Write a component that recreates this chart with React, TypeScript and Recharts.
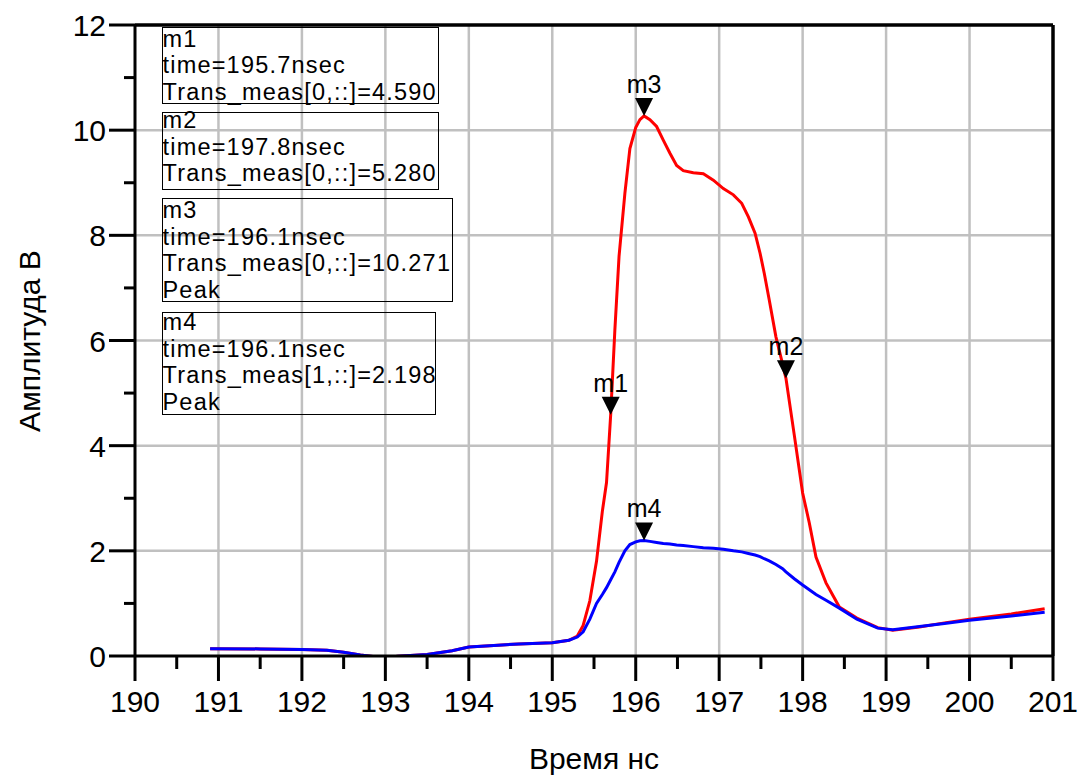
import React from 'react';
import { LineChart, Line, XAxis, YAxis, ReferenceLine, ReferenceDot } from 'recharts';

// time axis, ns
const timeNs = [
  190.9, 191.5, 192.0, 192.3, 192.5, 192.7, 192.85, 193.0, 193.15, 193.5, 193.8, 194.0, 194.3, 194.6,
  195.0, 195.2, 195.3, 195.37, 195.45, 195.53, 195.6, 195.65, 195.7, 195.75, 195.8, 195.87, 195.93,
  196.0, 196.05, 196.1, 196.17, 196.25, 196.33, 196.41, 196.49, 196.57, 196.69, 196.81, 196.93,
  197.05, 197.17, 197.27, 197.35, 197.43, 197.49, 197.54, 197.6, 197.68, 197.76, 197.8, 197.9,
  198.0, 198.08, 198.16, 198.28, 198.44, 198.65, 198.9, 199.08, 199.4, 199.7, 200.0, 200.5, 200.9,
];

// Trans_meas[0,::] (red)
const trans0 = [
  0.14, 0.135, 0.125, 0.11, 0.07, 0.02, -0.01, -0.03, -0.005, 0.03, 0.1, 0.17, 0.2, 0.23,
  0.25, 0.3, 0.38, 0.58, 1.05, 1.8, 2.75, 3.3, 4.59, 6.2, 7.6, 8.8, 9.65,
  10.05, 10.2, 10.271, 10.2, 10.07, 9.81, 9.56, 9.33, 9.23, 9.19, 9.17, 9.05,
  8.89, 8.77, 8.61, 8.35, 8.04, 7.66, 7.28, 6.77, 6.07, 5.55, 5.28, 4.2,
  3.1, 2.53, 1.88, 1.39, 0.93, 0.72, 0.54, 0.49, 0.55, 0.63, 0.7, 0.8, 0.9,
];

// Trans_meas[1,::] (blue)
const trans1 = [
  0.14, 0.135, 0.125, 0.11, 0.07, 0.02, -0.01, -0.03, -0.005, 0.03, 0.1, 0.17, 0.2, 0.23,
  0.25, 0.3, 0.36, 0.46, 0.7, 1.0, 1.17, 1.3, 1.45, 1.6, 1.78, 2.0, 2.12,
  2.17, 2.19, 2.198, 2.18, 2.16, 2.14, 2.13, 2.11, 2.1, 2.08, 2.06, 2.05,
  2.03, 2.0, 1.98, 1.95, 1.92, 1.89, 1.85, 1.81, 1.74, 1.66, 1.6, 1.47,
  1.35, 1.26, 1.17, 1.06, 0.91, 0.7, 0.53, 0.5, 0.56, 0.62, 0.68, 0.76, 0.83,
];

const xMajor = [190, 191, 192, 193, 194, 195, 196, 197, 198, 199, 200, 201];
const yTicks = [0, 1, 2, 3, 4, 5, 6, 7, 8, 9, 10, 11, 12];
const xGrid = [191, 192, 193, 194, 195, 196, 197, 198, 199, 200];
const yGrid = [2, 4, 6, 8, 10];

const markers = [
  { name: 'm1', time: 195.7, value: 4.59, series: 0, peak: false },
  { name: 'm2', time: 197.8, value: 5.28, series: 0, peak: false },
  { name: 'm3', time: 196.1, value: 10.271, series: 0, peak: true },
  { name: 'm4', time: 196.1, value: 2.198, series: 1, peak: true },
];

// readout box placement (page px)
const boxes = [
  { left: 162, top: 27, width: 277, height: 77, textTop: 25.5 },
  { left: 162, top: 112, width: 277, height: 78, textTop: 107 },
  { left: 162, top: 198, width: 291, height: 104, textTop: 197 },
  { left: 162, top: 312, width: 274, height: 103, textTop: 309 },
];

const FONT = '"Liberation Sans", Arial, sans-serif';

const data = timeNs.map((t, i) => ({ t, v0: trans0[i], v1: trans1[i] }));
const xTicks = [...xMajor, ...xMajor.slice(1).map((v) => v - 0.5)].sort((a, b) => a - b);

const XTick = (props: any) => {
  const { x, y, payload } = props;
  const major = Number.isInteger(payload.value);
  return (
    <g>
      <line x1={x} x2={x} y1={y} y2={y + (major ? 25 : 13)} stroke="#000" strokeWidth={3} />
      {major && (
        <text x={x} y={y + 56} textAnchor="middle" fontSize={30} fontFamily={FONT} fill="#000">
          {payload.value}
        </text>
      )}
    </g>
  );
};

const YTick = (props: any) => {
  const { x, y, payload } = props;
  const major = payload.value % 2 === 0;
  return (
    <g>
      <line x1={x} x2={x - (major ? 26 : 11)} y1={y} y2={y} stroke="#000" strokeWidth={3} />
      {major && (
        <text x={x - 29} y={y + 11} textAnchor="end" fontSize={30} fontFamily={FONT} fill="#000">
          {payload.value}
        </text>
      )}
    </g>
  );
};

const markerShape = (name: string) => (props: any) => {
  const { cx, cy } = props;
  return (
    <g>
      <polygon points={`${cx - 9},${cy - 18} ${cx + 9},${cy - 18} ${cx},${cy}`} fill="#000" />
      <text x={cx} y={cy - 23} textAnchor="middle" fontSize={25} fontFamily={FONT} fill="#000">
        {name}
      </text>
    </g>
  );
};

export default function App() {
  return (
    <div style={{ position: 'absolute', left: 0, top: 0, width: 1081, height: 776, background: '#fff', fontFamily: FONT }}>
      <LineChart width={1081} height={776} data={data} margin={{ top: 25, right: 28, bottom: 0, left: 0 }}>
        {xGrid.map((v) => (
          <ReferenceLine key={`gx${v}`} x={v} stroke="#c0c0c0" strokeWidth={2.5} />
        ))}
        {yGrid.map((v) => (
          <ReferenceLine key={`gy${v}`} y={v} stroke="#c0c0c0" strokeWidth={2.5} />
        ))}
        <ReferenceLine y={12} stroke="#000" strokeWidth={3.5} />
        <ReferenceLine x={201} stroke="#000" strokeWidth={3.5} />
        <XAxis
          dataKey="t"
          type="number"
          domain={[190, 201]}
          ticks={xTicks}
          interval={0}
          height={120}
          tickSize={0}
          tickMargin={0}
          tickLine={false}
          axisLine={{ stroke: '#000', strokeWidth: 3 }}
          tick={<XTick />}
        />
        <YAxis
          type="number"
          domain={[0, 12]}
          allowDataOverflow
          ticks={yTicks}
          interval={0}
          width={135}
          tickSize={0}
          tickMargin={0}
          tickLine={false}
          axisLine={{ stroke: '#000', strokeWidth: 3 }}
          tick={<YTick />}
        />
        <Line dataKey="v0" stroke="#ff0000" strokeWidth={3} dot={false} isAnimationActive={false} />
        <Line dataKey="v1" stroke="#0000ff" strokeWidth={3} dot={false} isAnimationActive={false} />
        {markers.map((m) => (
          <ReferenceDot key={m.name} x={m.time} y={m.value} r={0} shape={markerShape(m.name)} />
        ))}
      </LineChart>

      {markers.map((m, i) => {
        const b = boxes[i];
        return (
          <React.Fragment key={m.name}>
            <div
              style={{
                position: 'absolute',
                left: b.left,
                top: b.top,
                width: b.width,
                height: b.height,
                border: '1.5px solid #000',
                boxSizing: 'border-box',
              }}
            />
            <div
              style={{
                position: 'absolute',
                left: b.left + 0.5,
                top: b.textTop,
                fontSize: 23.5,
                letterSpacing: '1.2px',
                lineHeight: '26.5px',
                whiteSpace: 'nowrap',
                color: '#000',
              }}
            >
              <div>{m.name}</div>
              <div>{`time=${m.time}nsec`}</div>
              <div>{`Trans_meas[${m.series},::]=${m.value.toFixed(3)}`}</div>
              {m.peak && <div>Peak</div>}
            </div>
          </React.Fragment>
        );
      })}

      <div
        style={{
          position: 'absolute',
          left: 30,
          top: 341,
          transform: 'translate(-50%, -50%) rotate(-90deg)',
          fontSize: 30,
          lineHeight: '30px',
          whiteSpace: 'nowrap',
        }}
      >
        Амплитуда В
      </div>
      <div
        style={{
          position: 'absolute',
          left: 594,
          top: 744,
          transform: 'translateX(-50%)',
          fontSize: 30,
          lineHeight: '30px',
          whiteSpace: 'nowrap',
        }}
      >
        Время нс
      </div>
    </div>
  );
}
